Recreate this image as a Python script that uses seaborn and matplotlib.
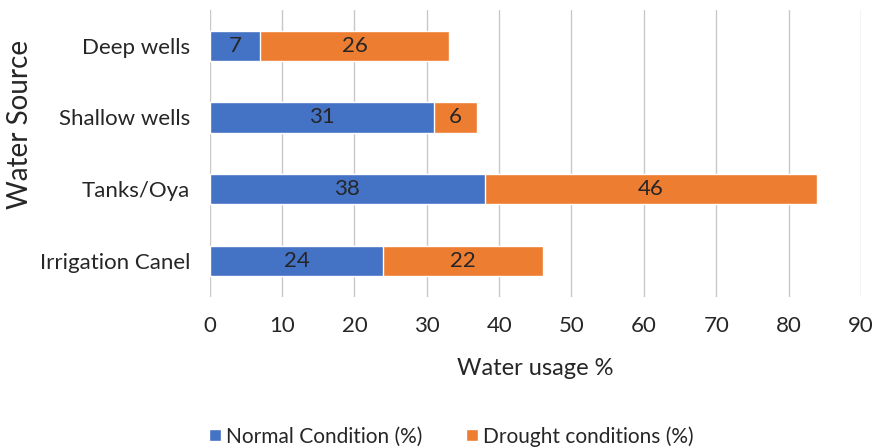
import matplotlib
matplotlib.use("Agg")
import matplotlib.pyplot as plt
import seaborn as sns
import pandas as pd
from matplotlib.lines import Line2D

# Chart data
sources = ["Deep wells", "Shallow wells", "Tanks/Oya", "Irrigation Canel"]
normal = [7, 31, 38, 24]
drought = [26, 6, 46, 22]
x_ticks = [0, 10, 20, 30, 40, 50, 60, 70, 80, 90]

BLUE = "#4472C4"
ORANGE = "#ED7D31"
TXT = "#262626"

sns.set_theme(style="white")
plt.rcParams["font.family"] = ["Lato", "DejaVu Sans"]

df = pd.DataFrame({"source": sources, "normal": normal, "drought": drought})
df["total"] = df["normal"] + df["drought"]

fig = plt.figure(figsize=(8.74, 4.47), dpi=100)
ax = fig.add_axes([0.240, 0.336, 0.745, 0.642])

# stacked bars: draw total in orange, then the normal part in blue on top
sns.barplot(data=df, y="source", x="total", color=ORANGE, saturation=1,
            width=0.42, orient="h", ax=ax)
sns.barplot(data=df, y="source", x="normal", color=BLUE, saturation=1,
            width=0.42, orient="h", ax=ax)

# value labels centred in each segment
for i, row in df.iterrows():
    ax.text(row["normal"] / 2, i, str(row["normal"]), ha="center", va="center",
            fontsize=16, color=TXT)
    ax.text(row["normal"] + row["drought"] / 2, i, str(row["drought"]),
            ha="center", va="center", fontsize=16, color=TXT)

ax.set_xlim(0, 90)
ax.set_xticks(x_ticks)
ax.set_xticklabels([str(t) for t in x_ticks], fontsize=16, color=TXT)
ax.tick_params(axis="y", labelsize=16, labelcolor=TXT, length=0, pad=14)
ax.tick_params(axis="x", length=0, pad=14)
ax.grid(axis="x", color="#c8c8c8", linewidth=1)
ax.set_axisbelow(True)
for s in ax.spines.values():
    s.set_visible(False)

ax.set_xlabel("Water usage %", fontsize=17, color=TXT, labelpad=16)
ax.set_ylabel("Water Source", fontsize=20, color=TXT)
ax.yaxis.set_label_coords(-0.272, 0.6)

handles = [Line2D([0], [0], marker="s", color="w", markerfacecolor=BLUE, markersize=9, linestyle=""),
           Line2D([0], [0], marker="s", color="w", markerfacecolor=ORANGE, markersize=9, linestyle="")]
fig.legend(handles, ["Normal Condition (%)", "Drought conditions (%)"],
           loc="center", bbox_to_anchor=(0.515, 0.024), ncol=2, frameon=False,
           fontsize=15, handletextpad=0.1, handlelength=0.8, columnspacing=2.0,
           labelcolor=TXT)

fig.savefig("out.png", dpi=100)
